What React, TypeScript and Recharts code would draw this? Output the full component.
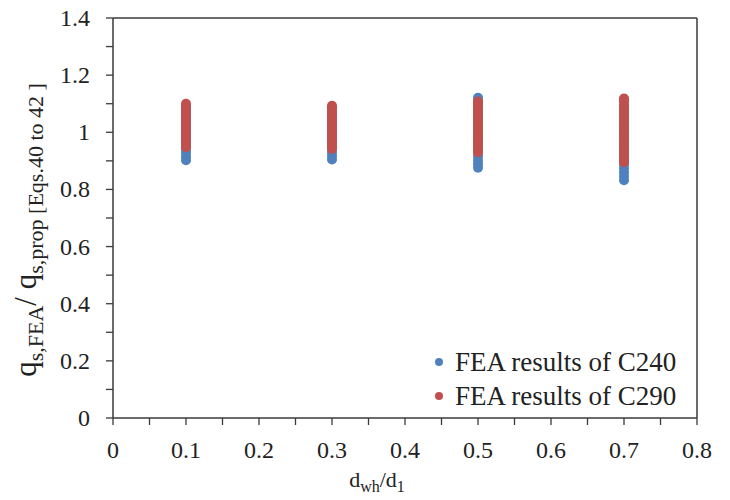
import { ScatterChart, Scatter, XAxis, YAxis, ReferenceLine } from 'recharts'

// d_wh/d_1 positions of the four groups
const RATIOS = [0.1, 0.3, 0.5, 0.7]

// q_s,FEA / q_s,prop, one list per ratio
const C240_VALUES = [
  [0.902, 0.914, 0.928, 0.941, 0.953, 0.966, 0.979, 0.991, 1.004, 1.016, 1.029, 1.041, 1.054, 1.066, 1.079, 1.091],
  [0.905, 0.918, 0.931, 0.944, 0.957, 0.969, 0.982, 0.995, 1.008, 1.021, 1.034, 1.047, 1.06, 1.073, 1.084],
  [0.876, 0.889, 0.902, 0.916, 0.93, 0.944, 0.958, 0.972, 0.986, 1.0, 1.014, 1.028, 1.042, 1.056, 1.07, 1.084, 1.098, 1.11, 1.121],
  [0.832, 0.846, 0.86, 0.874, 0.888, 0.902, 0.917, 0.931, 0.946, 0.96, 0.975, 0.99, 1.004, 1.019, 1.034, 1.049, 1.064, 1.078, 1.092],
]

const C290_VALUES = [
  [0.948, 0.96, 0.972, 0.984, 0.996, 1.008, 1.02, 1.032, 1.044, 1.056, 1.068, 1.08, 1.091, 1.1],
  [0.942, 0.954, 0.966, 0.978, 0.99, 1.002, 1.014, 1.026, 1.038, 1.05, 1.062, 1.074, 1.086, 1.093],
  [0.93, 0.943, 0.956, 0.969, 0.982, 0.995, 1.008, 1.021, 1.034, 1.047, 1.06, 1.073, 1.086, 1.098, 1.108],
  [0.895, 0.908, 0.922, 0.936, 0.95, 0.964, 0.978, 0.992, 1.006, 1.02, 1.034, 1.048, 1.062, 1.076, 1.09, 1.103, 1.114, 1.118],
]

const SERIES_NAMES = ['FEA results of C240', 'FEA results of C290']

const X_TICKS = [0, 0.05, 0.1, 0.15, 0.2, 0.25, 0.3, 0.35, 0.4, 0.45, 0.5, 0.55, 0.6, 0.65, 0.7, 0.75, 0.8]
const Y_TICKS = [0, 0.1, 0.2, 0.3, 0.4, 0.5, 0.6, 0.7, 0.8, 0.9, 1, 1.1, 1.2, 1.3, 1.4]

const BLUE = '#4f81bd'
const RED = '#c0504d'
const AXIS = '#3a3a3a'
const FONT = '"Liberation Serif", "Times New Roman", serif'
const TXT = { fontFamily: FONT }

const toPoints = (vals: number[][]) =>
  vals.flatMap((list, i) => list.map(v => ({ x: RATIOS[i], y: v })))

const c240 = toPoints(C240_VALUES)
const c290 = toPoints(C290_VALUES)

const dot = (color: string) => (p: any) => <circle cx={p.cx} cy={p.cy} r={5} fill={color} />

const XTick = ({ x, y, payload }: any) => {
  const v = payload.value
  const major = Math.round(v * 100) % 10 === 0
  return (
    <g>
      <line x1={x} x2={x} y1={y - 8} y2={y - 1} stroke={AXIS} strokeWidth={1.3} />
      {major && (
        <text x={x} y={y + 32} textAnchor="middle" style={TXT} fontSize={24} fill="#222">
          {String(Math.round(v * 10) / 10)}
        </text>
      )}
    </g>
  )
}

const YTick = ({ x, y, payload }: any) => {
  const v = payload.value
  const major = Math.round(v * 10) % 2 === 0
  return (
    <g>
      <line x1={x + 1} x2={x + 8} y1={y} y2={y} stroke={AXIS} strokeWidth={1.3} />
      {major && (
        <text x={x - 15} y={y + 8} textAnchor="end" style={TXT} fontSize={24} fill="#222">
          {String(Math.round(v * 10) / 10)}
        </text>
      )}
    </g>
  )
}

export default function App() {
  return (
    <div style={{ position: 'absolute', left: 0, top: 0, width: 730, height: 500, background: '#fff' }}>
      <ScatterChart width={730} height={500} margin={{ top: 18, right: 33, left: 53, bottom: 42 }}>
        <XAxis
          type="number" dataKey="x" domain={[0, 0.8]} ticks={X_TICKS} interval={0}
          height={40} axisLine={{ stroke: AXIS, strokeWidth: 1.5 }} tickLine={false} tick={<XTick />}
          label={{
            content: () => (
              <text x={377} y={487} textAnchor="middle" style={TXT} fontSize={22} fill="#222">
                d<tspan fontSize={16} dy={5}>wh</tspan><tspan dy={-5}>/d</tspan><tspan fontSize={16} dy={5}>1</tspan>
              </text>
            ),
          }}
        />
        <YAxis
          type="number" dataKey="y" domain={[0, 1.4]} ticks={Y_TICKS} interval={0}
          width={60} axisLine={{ stroke: AXIS, strokeWidth: 1.5 }} tickLine={false} tick={<YTick />}
          label={{
            content: () => (
              <text
                x={36} y={230} textAnchor="middle" style={TXT} fontSize={31} fill="#222"
                transform="rotate(-90, 36, 230)"
              >
                q<tspan fontSize={22} dy={7}>s,FEA</tspan>
                <tspan dy={-7}>/ q</tspan>
                <tspan fontSize={22} dy={7}>s,prop [Eqs.40 to 42 ]</tspan>
              </text>
            ),
          }}
        />
        <ReferenceLine y={1.4} stroke={AXIS} strokeWidth={1.5} />
        <ReferenceLine x={0.8} stroke={AXIS} strokeWidth={1.5} />
        <Scatter name={SERIES_NAMES[0]} data={c240} fill={BLUE} shape={dot(BLUE)} isAnimationActive={false} />
        <Scatter name={SERIES_NAMES[1]} data={c290} fill={RED} shape={dot(RED)} isAnimationActive={false} />
      </ScatterChart>
      <div
        style={{
          position: 'absolute', left: 435, top: 345, fontFamily: FONT, fontSize: 27,
          color: '#222', lineHeight: '34px',
        }}
      >
        {SERIES_NAMES.map((name, i) => (
          <div key={name} style={{ display: 'flex', alignItems: 'center', whiteSpace: 'nowrap' }}>
            <span style={{ width: 8, height: 8, borderRadius: 4, background: i ? RED : BLUE, marginRight: 12 }} />
            {name}
          </div>
        ))}
      </div>
    </div>
  )
}
